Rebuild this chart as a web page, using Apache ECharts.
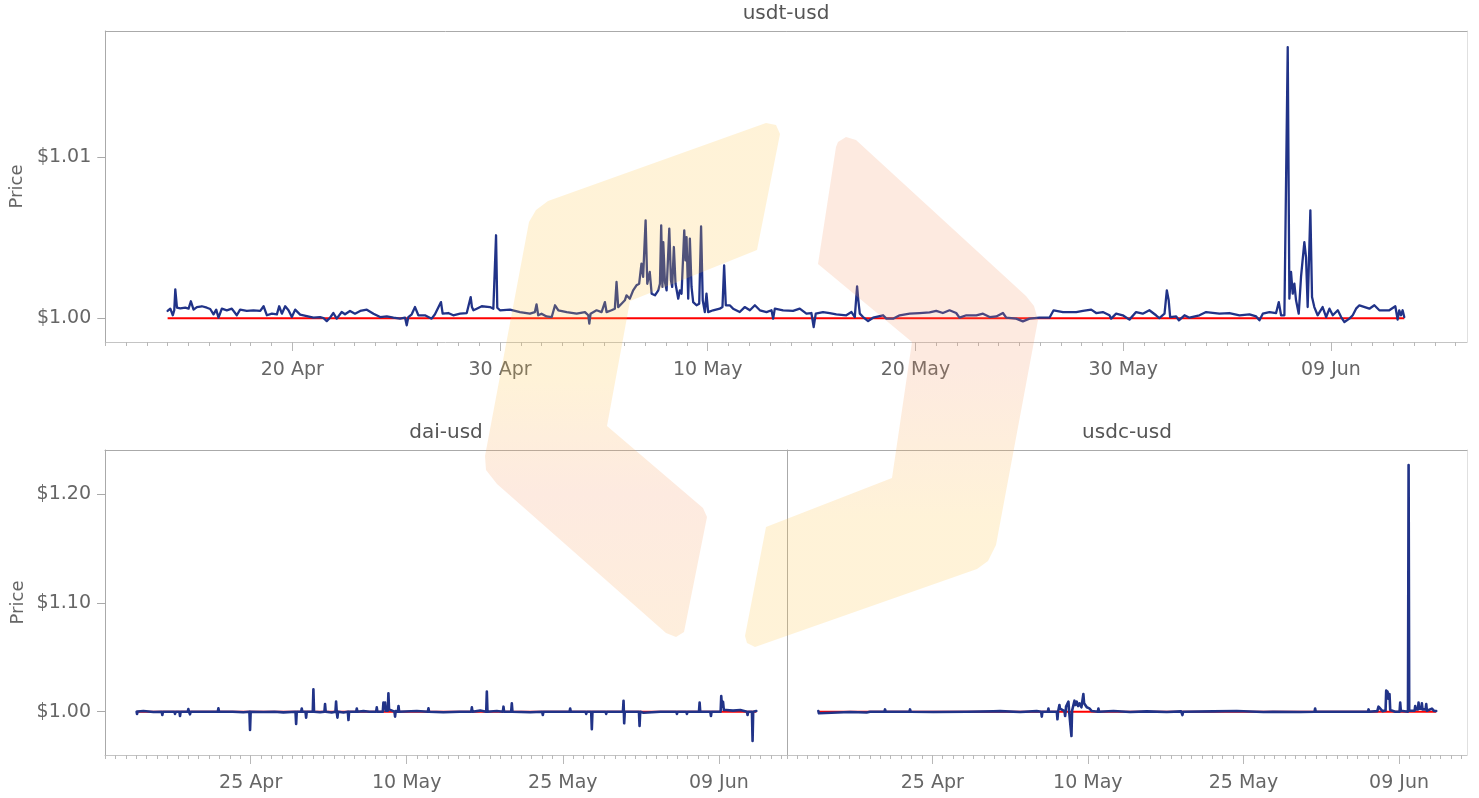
<!DOCTYPE html>
<html><head><meta charset="utf-8">
<script src="https://cdn.jsdelivr.net/npm/echarts@6/dist/echarts.min.js"></script>
<style>html,body{margin:0;padding:0;background:#fff}#c{width:1479px;height:798px}</style>
</head><body><div id="c"></div>
<script>
// x values are days counted from 10 Apr (10 = 20 Apr, 30 = 10 May, 60 = 09 Jun)
const panelTitles = ['usdt-usd', 'dai-usd', 'usdc-usd'];
const pegPrice = 1.0;

const usdtUsd = [
[4.00,1.00046],[4.13,1.00060],[4.25,1.00019],[4.32,1.00050],[4.37,1.00180],[4.45,1.00066],[4.61,1.00062],[4.85,1.00066],[5.01,1.00060],[5.12,1.00106],[5.25,1.00054],[5.41,1.00070],[5.65,1.00075],[5.89,1.00066],[6.05,1.00058],[6.13,1.00050],[6.21,1.00025],[6.34,1.00054],[6.45,1.00004],[6.61,1.00060],[6.85,1.00050],[7.09,1.00060],[7.33,1.00019],[7.49,1.00054],[7.81,1.00046],[8.13,1.00050],[8.46,1.00046],[8.62,1.00075],[8.78,1.00019],[9.02,1.00029],[9.26,1.00025],[9.37,1.00075],[9.50,1.00029],[9.66,1.00075],[9.82,1.00050],[9.98,1.00008],[10.14,1.00054],[10.38,1.00023],[10.70,1.00014],[11.02,1.00004],[11.34,1.00008],[11.50,1.00002],[11.66,0.99983],[11.82,1.00004],[11.98,1.00033],[12.14,0.99998],[12.38,1.00039],[12.54,1.00025],[12.78,1.00046],[13.02,1.00029],[13.27,1.00046],[13.59,1.00054],[13.91,1.00029],[14.23,1.00008],[14.55,1.00012],[14.87,1.00004],[15.19,0.99998],[15.43,1.00004],[15.51,0.99957],[15.59,1.00008],[15.75,1.00025],[15.91,1.00070],[16.07,1.00019],
[16.39,1.00019],[16.71,0.99998],[16.87,1.00025],[17.16,1.00101],[17.24,1.00029],[17.51,1.00033],[17.75,1.00019],[18.08,1.00029],[18.40,1.00033],[18.59,1.00132],[18.65,1.00070],[18.72,1.00050],[18.88,1.00060],[19.12,1.00075],[19.52,1.00070],[19.68,1.00060],[19.81,1.00516],[19.87,1.00066],
[20.00,1.00050],[20.48,1.00054],[20.96,1.00039],[21.44,1.00029],[21.68,1.00039],[21.76,1.00087],[21.84,1.00019],[22.00,1.00029],[22.24,1.00012],[22.49,1.00008],[22.65,1.00081],[22.81,1.00050],[23.21,1.00039],[23.69,1.00029],[24.09,1.00039],[24.25,1.00019],[24.30,0.99967],[24.36,1.00029],[24.65,1.00050],[24.89,1.00039],[25.05,1.00101],[25.13,1.00039],[25.37,1.00050],[25.53,1.00060],[25.61,1.00226],[25.69,1.00070],[25.85,1.00091],[26.01,1.00112],[26.09,1.00143],[26.25,1.00122],[26.41,1.00174],[26.57,1.00205],[26.70,1.00215],[26.81,1.00340],[26.89,1.00257],[27.01,1.00609],[27.09,1.00215],[27.21,1.00288],[27.30,1.00153],[27.46,1.00143],[27.62,1.00174],[27.70,1.00215],[27.76,1.00578],[27.82,1.00195],[27.86,1.00474],[27.94,1.00226],[28.02,1.00174],[28.15,1.00557],[28.23,1.00236],[28.29,1.00195],[28.37,1.00443],[28.45,1.00215],[28.58,1.00122],[28.66,1.00174],[28.74,1.00153],[28.87,1.00547],[28.93,1.00360],[28.98,1.00505],[29.06,1.00122],[29.14,1.00495],[29.22,1.00195],[29.30,1.00101],[29.46,1.00081],[29.59,1.00091],[29.68,1.00571],[29.76,1.00112],[29.86,1.00039],[29.94,1.00153],[30.02,1.00039],[30.26,1.00050],[30.58,1.00060],[30.71,1.00070],[30.79,1.00329],[30.87,1.00081],[31.06,1.00081],[31.22,1.00060],[31.54,1.00039],[31.78,1.00070],[32.03,1.00050],[32.27,1.00081],[32.51,1.00050],[32.83,1.00039],[33.07,1.00050],[33.15,0.99998],[33.23,1.00060],[33.63,1.00050],[34.11,1.00046],[34.43,1.00060],[34.75,1.00029],[34.99,1.00033],[35.10,0.99946],[35.20,1.00029],[35.55,1.00039],[35.87,1.00033],[36.19,1.00025],[36.67,1.00019],[36.92,1.00039],[37.08,1.00008],[37.16,1.00019],[37.19,1.00199],[37.25,1.00112],[37.32,1.00029],[37.48,1.00008],[37.72,0.99983],[37.96,1.00004],[38.44,1.00019],[38.60,0.99998],[38.92,0.99998],[39.24,1.00019],
[39.72,1.00029],[40.20,1.00033],[40.68,1.00037],[41.00,1.00046],[41.32,1.00033],[41.64,1.00050],[41.96,1.00033],[42.12,1.00004],[42.45,1.00019],[42.93,1.00019],[43.25,1.00029],[43.57,1.00008],[43.89,1.00012],[44.21,1.00033],[44.37,1.00004],[44.85,0.99998],[45.17,0.99981],[45.49,0.99998],[45.97,1.00004],[46.45,1.00004],[46.65,1.00050],[47.10,1.00039],[47.74,1.00039],[48.06,1.00046],[48.46,1.00054],[48.70,1.00033],[49.02,1.00039],[49.34,1.00019],[49.42,0.99998],[49.66,1.00029],[49.98,1.00019],[50.30,0.99992],[50.62,1.00039],[50.94,1.00029],[51.26,1.00050],[51.58,1.00019],[51.74,1.00002],[51.99,1.00029],[52.10,1.00174],[52.19,1.00112],
[52.26,1.00008],[52.55,1.00012],[52.68,0.99988],[52.95,1.00019],[53.19,1.00004],[53.67,1.00019],[53.99,1.00039],[54.63,1.00029],[55.11,1.00033],[55.60,1.00019],[56.08,1.00025],[56.40,1.00012],[56.56,0.99988],[56.72,1.00029],[57.04,1.00039],[57.36,1.00033],[57.49,1.00101],[57.60,1.00019],[57.76,1.00019],[57.84,1.00029],[57.92,1.01685],[58.00,1.00122],[58.08,1.00288],[58.16,1.00153],[58.24,1.00215],[58.32,1.00112],[58.45,1.00029],[58.56,1.00257],[58.72,1.00474],[58.80,1.00381],[58.88,1.00070],[59.01,1.00671],[59.09,1.00133],[59.20,1.00070],[59.36,1.00019],[59.60,1.00070],[59.77,1.00008],[59.93,1.00060],[60.09,1.00019],[60.33,1.00050],[60.49,1.00008],[60.65,0.99977],[60.89,0.99998],[61.05,1.00019],[61.21,1.00060],[61.37,1.00081],[61.85,1.00060],[62.09,1.00081],[62.33,1.00050],[62.81,1.00050],[63.10,1.00075],[63.21,0.99992],[63.29,1.00050],[63.37,1.00019],[63.45,1.00050],[63.53,1.00008]
];

const daiUsd = [
[4.04,1.0000],[4.08,0.9979],[4.14,1.0002],[4.69,1.0006],[5.65,0.9997],
[6.45,1.0000],[6.51,0.9969],[6.57,1.0000],
[7.67,1.0000],[7.73,0.9979],[7.79,1.0000],
[8.15,1.0000],[8.21,0.9960],[8.27,1.0000],
[8.95,1.0000],[9.01,1.0024],[9.07,1.0000],[9.11,1.0000],[9.17,0.9976],[9.23,1.0000],
[10.23,1.0000],[10.29,0.9985],[10.35,1.0000],
[11.04,1.0000],[11.10,0.9985],[11.16,1.0000],
[11.84,1.0000],[11.90,1.0031],[11.96,1.0000],
[13.28,1.0000],[13.34,1.0015],[13.40,1.0000],
[14.30,0.9995],
[14.88,1.0000],[14.94,0.9832],[15.00,1.0000],
[16.22,0.9997],
[17.29,1.0000],[17.35,1.0015],[17.41,1.0000],
[18.15,0.9994],
[19.31,1.0000],[19.37,0.9887],[19.43,1.0000],
[19.85,1.0000],[19.91,1.0028],[19.97,1.0000],
[20.27,1.0000],[20.33,0.9945],[20.39,1.0000],
[20.97,1.0000],[21.03,1.0205],[21.09,1.0000],
[21.67,0.9995],
[22.09,1.0000],[22.15,1.0070],[22.21,1.0000],
[22.79,0.9993],
[23.15,1.0000],[23.21,1.0092],[23.27,1.0000],[23.30,1.0000],[23.34,0.9945],[23.40,1.0000],
[23.92,0.9993],
[24.34,1.0000],[24.40,0.9923],[24.46,1.0000],
[25.14,1.0000],[25.20,1.0028],[25.26,1.0000],
[25.84,1.0005],
[26.42,1.0000],[26.48,1.0015],[26.54,1.0000],
[27.06,1.0000],[27.12,1.0040],[27.18,1.0000],
[27.70,1.0000],[27.76,1.0083],[27.84,1.0031],[27.92,1.0083],[27.98,1.0010],
[28.18,1.0010],[28.24,1.0168],[28.30,1.0021],[28.40,1.0021],
[28.82,1.0000],[28.88,0.9954],[28.94,1.0005],
[29.15,1.0000],[29.21,1.0052],[29.27,1.0000],
[30.97,1.0006],
[32.03,1.0000],[32.09,1.0031],[32.15,1.0000],
[33.53,0.9995],
[35.07,1.0000],[35.13,0.9985],[35.19,1.0000],
[36.20,1.0000],[36.26,1.0040],[36.32,1.0000],
[37.06,1.0010],
[37.64,1.0000],[37.70,1.0184],[37.76,1.0000],
[38.66,1.0006],
[39.24,1.0000],[39.30,1.0046],[39.36,1.0000],
[40.04,1.0000],[40.10,1.0077],[40.16,1.0000],
[41.86,0.9995],
[43.02,1.0000],[43.08,0.9969],[43.14,1.0000],
[45.65,1.0000],[45.71,1.0028],[45.77,1.0000],
[47.19,1.0000],[47.25,0.9979],[47.31,1.0000],
[47.73,1.0000],[47.79,0.9838],[47.85,1.0000],
[49.11,1.0000],[49.17,0.9979],[49.23,1.0000],
[50.78,1.0000],[50.84,1.0101],[50.87,1.0000],[50.90,0.9893],[50.96,1.0000],
[51.74,1.0000],[51.80,1.0015],[51.86,1.0000],
[52.32,1.0000],[52.38,0.9868],[52.44,1.0000],
[52.76,0.9990],
[54.36,1.0000],
[55.91,1.0000],[55.97,0.9979],[56.03,1.0000],
[56.87,1.0000],[56.93,0.9979],[56.99,1.0000],
[58.09,1.0000],[58.15,1.0083],[58.21,1.0000],
[59.18,1.0000],[59.24,0.9960],[59.30,1.0000],
[60.17,1.0000],[60.23,1.0144],[60.30,1.0046],[60.40,1.0092],[60.48,1.0015],[60.71,1.0015],
[61.36,1.0010],[61.42,1.0028],[61.48,1.0010],[62.06,1.0015],
[62.70,1.0000],[62.76,0.9969],[62.82,1.0000],
[63.18,1.0000],[63.24,0.9731],[63.30,1.0000],[63.60,1.0006]
];

const usdcUsd = [
[4.02,1.0006],[4.08,0.9985],[4.14,1.0000],[7.08,0.9997],[8.68,0.9993],[9.00,1.0000],
[10.39,1.0000],[10.45,1.0021],[10.51,1.0000],
[12.80,1.0000],[12.86,1.0021],[12.92,1.0000],
[15.11,0.9997],[18.33,1.0000],[20.90,1.0003],[21.54,1.0005],[23.47,0.9997],[25.07,1.0005],
[25.50,1.0000],[25.56,0.9954],[25.62,1.0000],
[26.14,1.0000],[26.20,1.0028],[26.26,1.0000],
[27.01,1.0000],[27.07,0.9930],[27.13,1.0000],[27.20,1.0010],[27.26,1.0061],[27.32,1.0028],[27.49,1.0028],
[27.75,1.0005],[27.81,0.9960],[27.87,1.0010],[27.90,1.0046],[27.96,1.0028],[28.07,1.0028],[28.13,1.0092],[28.19,1.0009],[28.36,1.0009],[28.42,0.9776],[28.48,1.0009],[28.60,1.0020],[28.71,1.0101],[28.80,1.0061],[28.93,1.0092],[29.06,1.0052],[29.20,1.0077],[29.38,1.0040],[29.50,1.0050],[29.57,1.0162],[29.64,1.0077],[29.80,1.0060],[29.90,1.0040],[30.15,1.0030],[30.38,1.0006],
[30.96,1.0000],[31.02,1.0028],[31.08,1.0000],
[32.47,1.0006],[34.07,0.9997],[35.68,1.0003],[37.61,0.9997],[38.99,1.0003],
[39.06,1.0000],[39.12,0.9969],[39.18,1.0000],
[42.11,1.0003],[44.36,1.0006],[46.93,0.9997],
[47.84,1.0000],[47.90,1.0015],[47.96,1.0000],
[50.47,0.9997],
[51.85,1.0000],[51.91,1.0028],[51.97,1.0000],
[54.97,1.0000],
[57.00,1.0000],[57.06,1.0021],[57.12,1.0000],
[57.90,1.0005],[58.02,1.0046],[58.14,1.0028],[58.40,1.0005],
[58.70,1.0010],[58.76,1.0193],[58.82,1.0150],[58.89,1.0184],[58.96,1.0120],[59.08,1.0162],[59.15,1.0015],[59.63,1.0000],
[60.05,1.0000],[60.11,1.0083],[60.17,1.0009],
[60.86,1.0000],[60.92,1.2266],[60.98,1.0009],
[61.50,1.0010],[61.56,1.0052],[61.62,1.0021],[61.82,1.0021],[61.88,1.0083],[61.94,1.0028],[62.14,1.0028],[62.20,1.0077],[62.26,1.0021],[62.56,1.0021],[62.62,1.0070],[62.68,1.0009],[63.17,1.0028],[63.39,1.0006],[63.58,1.0006]
];

const topYTicks = [1.00, 1.01];
const bottomYTicks = [1.00, 1.10, 1.20];
const topXTickDays = [10, 20, 30, 40, 50, 60];
const topXTickLabels = ['20 Apr', '30 Apr', '10 May', '20 May', '30 May', '09 Jun'];
const bottomXTickDays = [15, 30, 45, 60];
const bottomXTickLabels = ['25 Apr', '10 May', '25 May', '09 Jun'];
const dayTicks = [1,2,3,4,5,6,7,8,9,10,11,12,13,14,15,16,17,18,19,20,21,22,23,24,25,26,27,28,29,30,31,32,33,34,35,36,37,38,39,40,41,42,43,44,45,46,47,48,49,50,51,52,53,54,55,56,57,58,59,60,61,62,63,64,65,66];

// ---- layout / style ----
const FONT = 'DejaVu Sans';
const TXT = '#666';
const X_MIN = 1, X_MAX = 66.55;
const panels = [
  {grid:{left:105, right:12, top:31, height:311}, data:usdtUsd, yMin:0.99853, yMax:1.01785, yTicks:topYTicks, xDays:topXTickDays, xLabels:topXTickLabels, yLabels:true, rightBorder:true, cx:786, ty:13.5, lw:2.3},
  {grid:{left:105, width:682, top:450, height:305}, data:daiUsd, yMin:0.9602, yMax:1.2404, yTicks:bottomYTicks, xDays:bottomXTickDays, xLabels:bottomXTickLabels, yLabels:true, rightBorder:false, cx:446, ty:432.5, lw:2.6},
  {grid:{left:787, right:12, top:450, height:305}, data:usdcUsd, yMin:0.9602, yMax:1.2404, yTicks:bottomYTicks, xDays:bottomXTickDays, xLabels:bottomXTickLabels, yLabels:false, rightBorder:true, cx:1127, ty:432.5, lw:2.6}
];

const grid = [], xAxis = [], yAxis = [], series = [], graphic = [];
panels.forEach((p, i) => {
  grid.push(Object.assign({containLabel:false}, p.grid));
  const xMain = xAxis.length;
  xAxis.push({
    type:'value', gridIndex:i, min:X_MIN, max:X_MAX, position:'bottom',
    axisLine:{show:true, lineStyle:{color:'#c4c4c4', width:1}},
    axisTick:{show:true, customValues:p.xDays, length:9, lineStyle:{color:'#b8b8b8'}},
    axisLabel:{show:true, customValues:p.xDays, formatter:(v)=>p.xLabels[p.xDays.indexOf(Math.round(v))] || '',
      fontSize:19, fontFamily:FONT, color:TXT, margin:19},
    splitLine:{show:false}
  });
  xAxis.push({
    type:'value', gridIndex:i, min:X_MIN, max:X_MAX, position:'bottom',
    axisLine:{show:false},
    axisTick:{show:true, customValues:dayTicks, length:4, lineStyle:{color:'#b8b8b8'}},
    axisLabel:{show:false}, splitLine:{show:false}
  });
  xAxis.push({
    type:'value', gridIndex:i, min:X_MIN, max:X_MAX, position:'top',
    axisLine:{show:true, lineStyle:{color:'#aaaaaa'}},
    axisTick:{show:false}, axisLabel:{show:false}, splitLine:{show:false}
  });
  const yMain = yAxis.length;
  yAxis.push({
    type:'value', gridIndex:i, min:p.yMin, max:p.yMax, position:'left',
    axisLine:{show:true, lineStyle:{color:'#aaaaaa'}},
    axisTick:{show:p.yLabels, customValues:p.yTicks, length:8, lineStyle:{color:'#aaaaaa'}},
    axisLabel:{show:p.yLabels, customValues:p.yTicks, formatter:(v)=>'$' + v.toFixed(2),
      fontSize:19, fontFamily:FONT, color:TXT, margin:14},
    splitLine:{show:false},
    name: p.yLabels ? 'Price' : '', nameLocation:'middle', nameGap:78,
    nameTextStyle:{fontSize:18, fontFamily:FONT, color:TXT}
  });
  if (p.rightBorder) {
    yAxis.push({
      type:'value', gridIndex:i, min:p.yMin, max:p.yMax, position:'right',
      axisLine:{show:true, lineStyle:{color:'#e0e0e0'}},
      axisTick:{show:false}, axisLabel:{show:false}, splitLine:{show:false}
    });
  }
  const first = p.data[0][0], last = p.data[p.data.length - 1][0];
  series.push({
    type:'line', xAxisIndex:xMain, yAxisIndex:yMain, data:[[first, pegPrice], [last, pegPrice]],
    showSymbol:false, symbol:'none', lineStyle:{color:'#ff0000', width:2}, z:2, silent:true
  });
  series.push({
    type:'line', xAxisIndex:xMain, yAxisIndex:yMain, data:p.data,
    showSymbol:false, symbol:'none', lineStyle:{color:'#213388', width:p.lw, join:'round', cap:'round'}, z:3, silent:true
  });
  graphic.push({
    type:'text', x:p.cx, y:p.ty, silent:true, z:50,
    style:{text:panelTitles[i], align:'center', verticalAlign:'middle', fontSize:20, fontFamily:FONT, fill:'#555'}
  });
});

// watermark (decorative logo, drawn translucent over the charts)
const YEL = 'rgba(255,196,70,0.21)', PEA = 'rgba(245,150,100,0.2)';
graphic.push({
  type:'polygon', silent:true, z:100,
  shape:{points:[[766,123],[776,125],[780,134],[757,250],[630,301],[607,426],[703,508],[707,517],[684,632],[676,637],[666,633],[497,484],[486,470],[485,456],[529,222],[536,210],[548,201]]},
  style:{fill:{type:'linear', x:0, y:0, x2:0, y2:1, colorStops:[{offset:0, color:YEL},{offset:0.5, color:YEL},{offset:0.72, color:PEA},{offset:1, color:'rgba(250,170,80,0.2)'}]}}
});
graphic.push({
  type:'polygon', silent:true, z:100,
  shape:{points:[[838,142],[846,137],[856,140],[1026,296],[1034,306],[1038,320],[996,545],[988,561],[977,569],[755,647],[747,643],[745,636],[766,527],[892,478],[912,342],[818,264],[836,147]]},
  style:{fill:{type:'linear', x:0, y:0, x2:0, y2:1, colorStops:[{offset:0, color:PEA},{offset:0.45, color:PEA},{offset:0.75, color:YEL},{offset:1, color:YEL}]}}
});

const chart = echarts.init(document.getElementById('c'), null, {renderer:'canvas'});
chart.setOption({
  animation:false, backgroundColor:'#ffffff',
  textStyle:{fontFamily:FONT},
  grid, xAxis, yAxis, series, graphic
});
</script></body></html>
